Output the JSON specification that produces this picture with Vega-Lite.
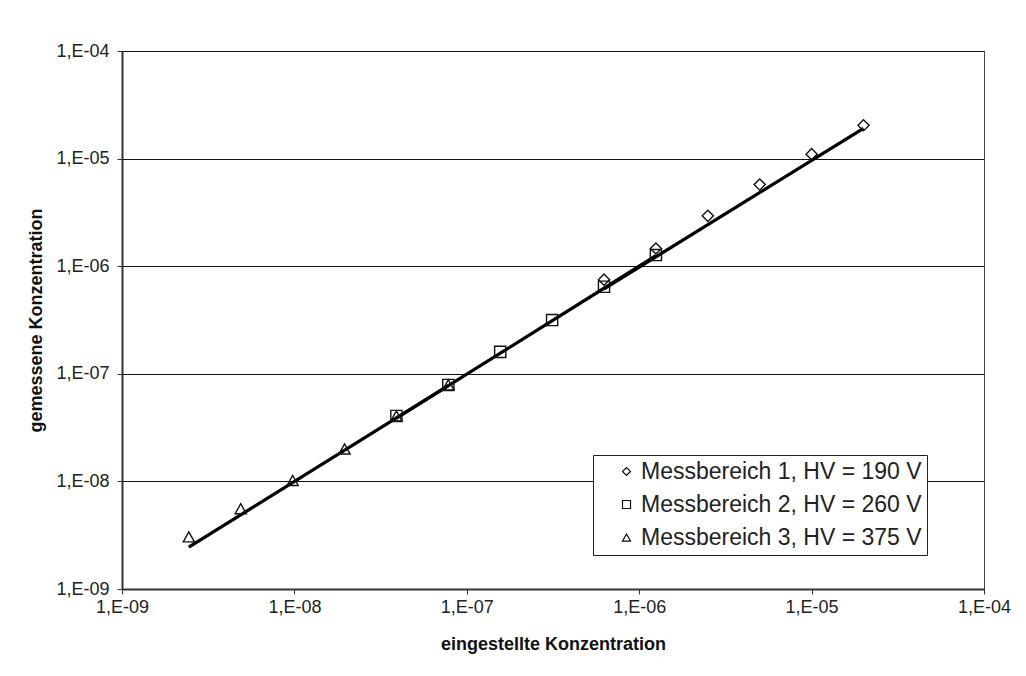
{
  "$schema": "https://vega.github.io/schema/vega-lite/v6.json",
  "autosize": "none",
  "width": 862,
  "height": 538,
  "padding": {"left": 122, "top": 51, "right": 42, "bottom": 87},
  "background": "white",
  "config": {
    "font": "Liberation Sans",
    "view": {"stroke": "#444", "strokeWidth": 1},
    "axis": {"labelFont": "Liberation Sans", "titleFont": "Liberation Sans"},
    "legend": {"labelFont": "Liberation Sans"}
  },
  "datasets": {
    "pts": [
      {"reihe": "Messbereich 1, HV = 190 V", "x": 2e-5, "y": 2.04e-5},
      {"reihe": "Messbereich 1, HV = 190 V", "x": 1e-5, "y": 1.10e-5},
      {"reihe": "Messbereich 1, HV = 190 V", "x": 5e-6, "y": 5.74e-6},
      {"reihe": "Messbereich 1, HV = 190 V", "x": 2.5e-6, "y": 2.94e-6},
      {"reihe": "Messbereich 1, HV = 190 V", "x": 1.25e-6, "y": 1.46e-6},
      {"reihe": "Messbereich 1, HV = 190 V", "x": 6.25e-7, "y": 7.5e-7},
      {"reihe": "Messbereich 2, HV = 260 V", "x": 1.25e-6, "y": 1.27e-6},
      {"reihe": "Messbereich 2, HV = 260 V", "x": 6.25e-7, "y": 6.44e-7},
      {"reihe": "Messbereich 2, HV = 260 V", "x": 3.125e-7, "y": 3.16e-7},
      {"reihe": "Messbereich 2, HV = 260 V", "x": 1.5625e-7, "y": 1.60e-7},
      {"reihe": "Messbereich 2, HV = 260 V", "x": 7.8125e-8, "y": 7.87e-8},
      {"reihe": "Messbereich 2, HV = 260 V", "x": 3.90625e-8, "y": 4.06e-8},
      {"reihe": "Messbereich 3, HV = 375 V", "x": 7.8125e-8, "y": 7.9e-8},
      {"reihe": "Messbereich 3, HV = 375 V", "x": 3.90625e-8, "y": 4.06e-8},
      {"reihe": "Messbereich 3, HV = 375 V", "x": 1.953125e-8, "y": 2.0e-8},
      {"reihe": "Messbereich 3, HV = 375 V", "x": 9.765625e-9, "y": 1.02e-8},
      {"reihe": "Messbereich 3, HV = 375 V", "x": 4.8828125e-9, "y": 5.57e-9},
      {"reihe": "Messbereich 3, HV = 375 V", "x": 2.44140625e-9, "y": 3.05e-9}
    ],
    "trend": [
      {"seg": "3", "x": 2.44140625e-9, "y": 2.45e-9},
      {"seg": "3", "x": 7.8125e-8, "y": 7.75e-8},
      {"seg": "2", "x": 3.90625e-8, "y": 3.87e-8},
      {"seg": "2", "x": 1.25e-6, "y": 1.25e-6},
      {"seg": "1", "x": 6.25e-7, "y": 6.15e-7},
      {"seg": "1", "x": 2e-5, "y": 1.91e-5}
    ]
  },
  "encoding": {
    "x": {
      "field": "x", "type": "quantitative",
      "scale": {"type": "log", "domain": [1e-9, 1e-4], "nice": false},
      "axis": {
        "title": "eingestellte Konzentration",
        "values": [1e-9, 1e-8, 1e-7, 1e-6, 1e-5, 1e-4],
        "labelExpr": "'1,E-0' + (-round(log(datum.value)/LN10))",
        "grid": false,
        "labelFontSize": 18, "labelColor": "#222", "labelPadding": 4,
        "labelFlush": false, "labelOverlap": false,
        "tickSize": 5, "tickColor": "#333", "tickWidth": 1,
        "domainColor": "#333", "domainWidth": 2,
        "titleFontSize": 18, "titleFontWeight": "bold", "titleColor": "#111", "titlePadding": 19
      }
    },
    "y": {
      "field": "y", "type": "quantitative",
      "scale": {"type": "log", "domain": [1e-9, 1e-4], "nice": false},
      "axis": {
        "title": "gemessene Konzentration",
        "values": [1e-9, 1e-8, 1e-7, 1e-6, 1e-5, 1e-4],
        "labelExpr": "'1,E-0' + (-round(log(datum.value)/LN10))",
        "grid": true, "gridColor": "#111", "gridWidth": 1, "gridOpacity": 1,
        "labelFontSize": 18, "labelColor": "#222", "labelPadding": 8,
        "labelFlush": false, "labelOverlap": false,
        "tickSize": 5, "tickColor": "#333", "tickWidth": 1,
        "domainColor": "#333", "domainWidth": 2,
        "titleFontSize": 18, "titleFontWeight": "bold", "titleColor": "#111", "titlePadding": 10
      }
    }
  },
  "layer": [
    {
      "data": {"name": "trend"},
      "mark": {"type": "line", "color": "black", "strokeWidth": 3.3},
      "encoding": {"detail": {"field": "seg"}}
    },
    {
      "data": {"name": "pts"},
      "mark": {"type": "point", "filled": false, "color": "#111", "strokeWidth": 1.4, "size": 125, "opacity": 1},
      "encoding": {
        "shape": {
          "field": "reihe", "type": "nominal",
          "scale": {"domain": ["Messbereich 1, HV = 190 V", "Messbereich 2, HV = 260 V", "Messbereich 3, HV = 375 V"], "range": ["diamond", "square", "M-1,0.9L0,-0.9L1,0.9Z"]},
          "legend": {
            "title": null,
            "orient": "none", "legendX": 471, "legendY": 404,
            "fillColor": "white", "strokeColor": "#222",
            "padding": 5,
            "labelFontSize": 23, "labelColor": "#222", "labelLimit": 400,
            "labelOffset": 3, "rowPadding": 9,
            "symbolSize": 64, "symbolOffset": 17, "symbolStrokeColor": "#111", "symbolStrokeWidth": 1.2,
            "symbolFillColor": "transparent"
          }
        }
      }
    }
  ]
}
